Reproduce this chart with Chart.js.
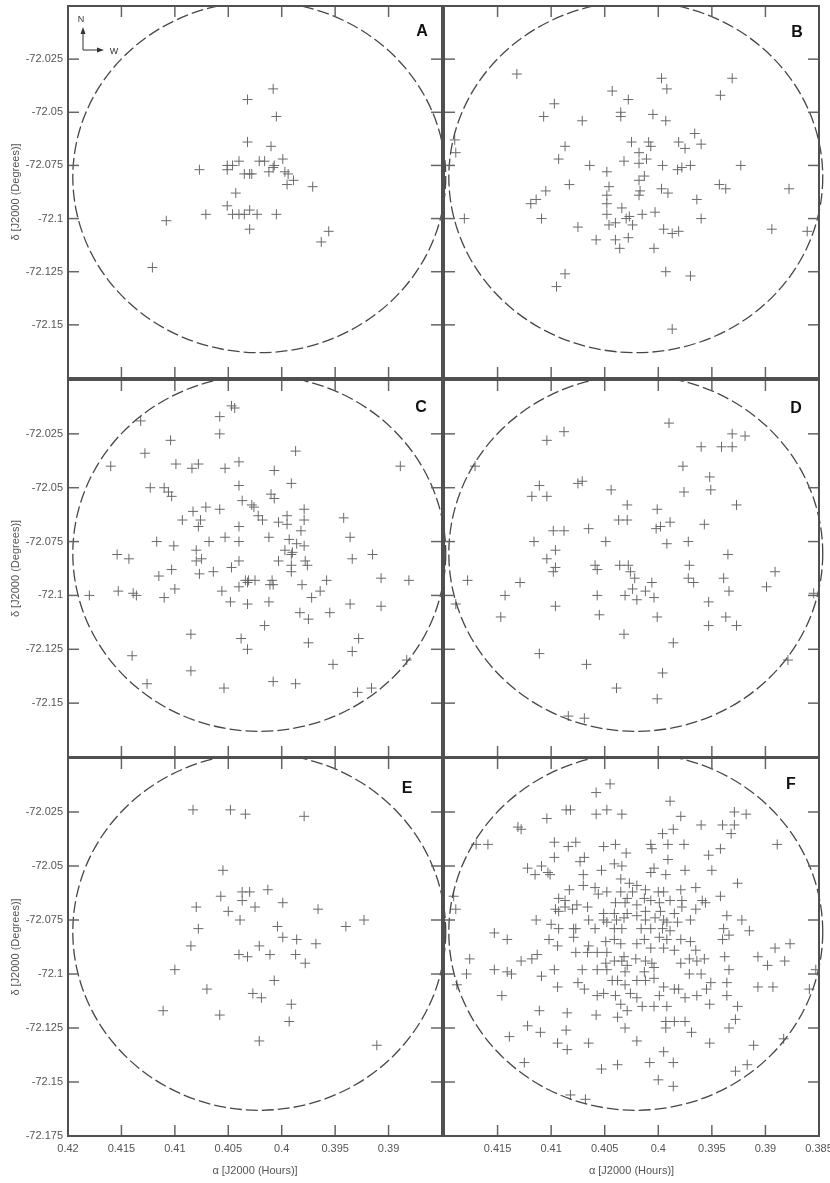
<!DOCTYPE html>
<html>
<head>
<meta charset="utf-8">
<title>Stars in field</title>
<script src="https://cdn.jsdelivr.net/npm/chart.js@4"></script>
<style>
  body { margin: 0; background: #fff; }
  #wrap { position: relative; width: 830px; height: 1183px; overflow: hidden; background: #fff; }
  #wrap canvas { position: absolute; }
</style>
</head>
<body>
<div id="wrap"></div>
<script>
/* ---- data ---- */
const raTicks = [0.42, 0.415, 0.41, 0.405, 0.4, 0.395, 0.39, 0.385];
const decTicks = [-72.175, -72.15, -72.125, -72.1, -72.075, -72.05, -72.025, -72.0];

// field circle: centre [RA h, Dec deg], radius [RA h, Dec deg]
const fieldCentre = [0.4021, -72.0805];
const fieldRadius = [0.01745, 0.0826];

const starsA = [
  [0.4008,-72.039],[0.4032,-72.044],[0.4005,-72.052],[0.4032,-72.064],[0.4010,-72.066],
  [0.4077,-72.077],[0.4051,-72.075],[0.4051,-72.077],[0.4046,-72.075],[0.4040,-72.073],
  [0.4021,-72.073],[0.4016,-72.073],[0.3999,-72.072],[0.4007,-72.075],[0.4008,-72.076],
  [0.4012,-72.078],[0.4035,-72.079],[0.4030,-72.079],[0.4028,-72.079],[0.3997,-72.078],
  [0.3994,-72.079],[0.3995,-72.084],[0.3989,-72.082],[0.3971,-72.085],[0.4043,-72.088],
  [0.4051,-72.094],[0.4071,-72.098],[0.4046,-72.098],[0.4040,-72.098],[0.4035,-72.098],
  [0.4030,-72.096],[0.4023,-72.098],[0.4005,-72.098],[0.4030,-72.105],[0.4108,-72.101],
  [0.3956,-72.106],[0.3963,-72.111],[0.4121,-72.123]
];

const starsB = [
  [0.4132,-72.032],[0.3997,-72.034],[0.3931,-72.034],[0.3992,-72.039],[0.4043,-72.040],
  [0.3942,-72.042],[0.4028,-72.044],[0.4097,-72.046],[0.4107,-72.052],[0.4035,-72.050],
  [0.4035,-72.052],[0.4005,-72.051],[0.4071,-72.054],[0.3993,-72.054],[0.3966,-72.060],
  [0.4190,-72.063],[0.4189,-72.069],[0.4087,-72.066],[0.4025,-72.064],[0.4009,-72.064],
  [0.4007,-72.066],[0.3981,-72.064],[0.3975,-72.067],[0.3960,-72.065],[0.4018,-72.069],
  [0.4011,-72.072],[0.4093,-72.072],[0.4032,-72.073],[0.4018,-72.074],[0.4064,-72.075],
  [0.3996,-72.075],[0.3982,-72.077],[0.3978,-72.076],[0.3970,-72.075],[0.3923,-72.075],
  [0.4048,-72.078],[0.4013,-72.080],[0.4018,-72.082],[0.4083,-72.084],[0.4046,-72.085],
  [0.3997,-72.086],[0.3991,-72.088],[0.3943,-72.084],[0.3937,-72.086],[0.3878,-72.086],
  [0.4105,-72.087],[0.4017,-72.087],[0.4018,-72.089],[0.4048,-72.089],[0.4114,-72.091],
  [0.4119,-72.093],[0.4048,-72.093],[0.3964,-72.091],[0.4034,-72.095],[0.4048,-72.098],
  [0.4027,-72.099],[0.4015,-72.098],[0.4003,-72.097],[0.4030,-72.100],[0.4109,-72.100],
  [0.3960,-72.100],[0.4181,-72.100],[0.4046,-72.103],[0.4040,-72.102],[0.4024,-72.103],
  [0.4075,-72.104],[0.3995,-72.105],[0.3987,-72.107],[0.3981,-72.106],[0.3894,-72.105],
  [0.3861,-72.106],[0.4058,-72.110],[0.4040,-72.110],[0.4028,-72.109],[0.4036,-72.114],
  [0.4004,-72.114],[0.3993,-72.125],[0.4087,-72.126],[0.3970,-72.127],[0.4095,-72.132],
  [0.3987,-72.152]
];

const starsC = [
  [0.4047,-72.012],[0.4044,-72.013],[0.4058,-72.017],[0.4132,-72.019],[0.4058,-72.025],
  [0.4104,-72.028],[0.3987,-72.033],[0.4128,-72.034],[0.4160,-72.040],[0.4099,-72.039],
  [0.4078,-72.039],[0.4084,-72.041],[0.4053,-72.041],[0.4040,-72.038],[0.4007,-72.042],
  [0.3889,-72.040],[0.4040,-72.049],[0.3991,-72.048],[0.4123,-72.050],[0.4110,-72.050],
  [0.4106,-72.052],[0.4103,-72.054],[0.4010,-72.053],[0.4007,-72.055],[0.4037,-72.056],
  [0.4028,-72.058],[0.4026,-72.059],[0.4071,-72.059],[0.4058,-72.060],[0.4083,-72.061],
  [0.4022,-72.063],[0.4018,-72.065],[0.4093,-72.065],[0.4076,-72.065],[0.4078,-72.068],
  [0.4040,-72.068],[0.4003,-72.066],[0.3995,-72.063],[0.3995,-72.067],[0.3979,-72.060],
  [0.3979,-72.065],[0.3982,-72.070],[0.3942,-72.064],[0.4012,-72.073],[0.4053,-72.073],
  [0.4040,-72.075],[0.4068,-72.075],[0.4117,-72.075],[0.4101,-72.077],[0.3993,-72.074],
  [0.3986,-72.076],[0.3979,-72.077],[0.4080,-72.079],[0.4080,-72.084],[0.4075,-72.083],
  [0.3997,-72.079],[0.3990,-72.080],[0.3991,-72.081],[0.3936,-72.073],[0.3934,-72.083],
  [0.3915,-72.081],[0.4154,-72.081],[0.4143,-72.083],[0.4003,-72.084],[0.4040,-72.084],
  [0.3978,-72.084],[0.3976,-72.086],[0.3991,-72.086],[0.3991,-72.089],[0.4047,-72.087],
  [0.4103,-72.088],[0.4115,-72.091],[0.4064,-72.089],[0.4077,-72.090],[0.4034,-72.093],
  [0.4031,-72.093],[0.4025,-72.093],[0.4032,-72.094],[0.4009,-72.093],[0.4011,-72.095],
  [0.4008,-72.095],[0.3958,-72.093],[0.3907,-72.092],[0.3881,-72.093],[0.3981,-72.095],
  [0.4040,-72.096],[0.4100,-72.097],[0.4153,-72.098],[0.4139,-72.099],[0.4136,-72.100],
  [0.4180,-72.100],[0.4110,-72.101],[0.4056,-72.098],[0.3964,-72.098],[0.3972,-72.101],
  [0.4048,-72.103],[0.4032,-72.104],[0.4012,-72.103],[0.3936,-72.104],[0.3907,-72.105],
  [0.3983,-72.108],[0.3975,-72.111],[0.3955,-72.108],[0.4016,-72.114],[0.4085,-72.118],
  [0.4038,-72.120],[0.3975,-72.122],[0.3928,-72.120],[0.4032,-72.125],[0.3934,-72.126],
  [0.4140,-72.128],[0.3883,-72.130],[0.3952,-72.132],[0.4085,-72.135],[0.4008,-72.140],
  [0.3987,-72.141],[0.4126,-72.141],[0.4054,-72.143],[0.3929,-72.145],[0.3916,-72.143]
];

const starsD = [
  [0.3990,-72.020],[0.4088,-72.024],[0.4104,-72.028],[0.3931,-72.025],[0.3919,-72.026],
  [0.3960,-72.031],[0.3941,-72.031],[0.3931,-72.031],[0.4171,-72.040],[0.3977,-72.040],
  [0.3952,-72.045],[0.4071,-72.047],[0.4075,-72.048],[0.4111,-72.049],[0.4118,-72.054],
  [0.4104,-72.054],[0.4044,-72.051],[0.3976,-72.052],[0.3951,-72.051],[0.4029,-72.058],
  [0.3927,-72.058],[0.4001,-72.060],[0.4037,-72.065],[0.4029,-72.065],[0.3989,-72.066],
  [0.4002,-72.069],[0.3998,-72.068],[0.3957,-72.067],[0.4098,-72.070],[0.4088,-72.070],
  [0.4065,-72.069],[0.4116,-72.075],[0.4049,-72.075],[0.3992,-72.076],[0.3972,-72.075],
  [0.4096,-72.079],[0.3935,-72.081],[0.4104,-72.083],[0.4059,-72.086],[0.4057,-72.088],
  [0.4036,-72.086],[0.4028,-72.086],[0.4026,-72.089],[0.3971,-72.086],[0.4096,-72.087],
  [0.4098,-72.089],[0.3891,-72.089],[0.4022,-72.092],[0.3972,-72.092],[0.3967,-72.094],
  [0.3939,-72.092],[0.4006,-72.094],[0.4178,-72.093],[0.4129,-72.094],[0.4024,-72.097],
  [0.4012,-72.098],[0.4031,-72.100],[0.4020,-72.102],[0.4004,-72.101],[0.4057,-72.100],
  [0.4143,-72.100],[0.3934,-72.098],[0.3899,-72.096],[0.3855,-72.099],[0.4189,-72.104],
  [0.3953,-72.103],[0.4096,-72.105],[0.4055,-72.109],[0.4001,-72.110],[0.4147,-72.110],
  [0.3937,-72.110],[0.3953,-72.114],[0.3927,-72.114],[0.4032,-72.118],[0.3986,-72.122],
  [0.4111,-72.127],[0.4067,-72.132],[0.3996,-72.136],[0.3879,-72.130],[0.4039,-72.143],
  [0.4001,-72.148],[0.4084,-72.156],[0.4069,-72.157]
];

const starsE = [
  [0.4083,-72.024],[0.4048,-72.024],[0.4034,-72.026],[0.3979,-72.027],[0.4055,-72.052],
  [0.4037,-72.062],[0.4030,-72.062],[0.4013,-72.061],[0.4057,-72.064],[0.4037,-72.066],
  [0.4080,-72.069],[0.4025,-72.069],[0.3999,-72.067],[0.3966,-72.070],[0.4050,-72.071],
  [0.4039,-72.075],[0.3923,-72.075],[0.4078,-72.079],[0.4004,-72.078],[0.3940,-72.078],
  [0.3999,-72.083],[0.3986,-72.084],[0.4085,-72.087],[0.4021,-72.087],[0.3968,-72.086],
  [0.4040,-72.091],[0.4032,-72.092],[0.4011,-72.091],[0.3987,-72.091],[0.3978,-72.095],
  [0.4100,-72.098],[0.4007,-72.103],[0.4070,-72.107],[0.4027,-72.109],[0.4019,-72.111],
  [0.3991,-72.114],[0.4111,-72.117],[0.4058,-72.119],[0.3993,-72.122],[0.4021,-72.131],
  [0.3911,-72.133]
];

const starsF = [
  // north-east quarter
  [0.4045,-72.012],[0.4058,-72.016],[0.4086,-72.024],[0.4082,-72.024],[0.4048,-72.024],
  [0.4058,-72.026],[0.4034,-72.026],[0.4104,-72.028],[0.4131,-72.032],[0.4128,-72.033],
  [0.4170,-72.040],[0.4159,-72.040],[0.4097,-72.039],[0.4084,-72.041],[0.4077,-72.039],
  [0.4051,-72.041],[0.4040,-72.040],[0.4030,-72.044],[0.4097,-72.046],[0.4069,-72.046],
  [0.4073,-72.048],[0.4122,-72.051],[0.4109,-72.050],[0.4115,-72.054],[0.4103,-72.053],
  [0.4101,-72.054],[0.4053,-72.052],[0.4041,-72.049],[0.4034,-72.050],[0.4070,-72.054],
  [0.4035,-72.056],[0.4027,-72.058],[0.4070,-72.059],[0.4059,-72.060],[0.4083,-72.061],
  [0.4048,-72.062],[0.4093,-72.065],[0.4087,-72.066],[0.4056,-72.063],[0.4035,-72.062],
  [0.4029,-72.065],[0.4024,-72.062],[0.4031,-72.067],[0.4040,-72.067],[0.4076,-72.068],
  [0.4080,-72.070],[0.4066,-72.069],[0.4096,-72.070],[0.4093,-72.071],[0.4087,-72.069],
  [0.4191,-72.064],[0.4189,-72.070],[0.4051,-72.072],[0.4041,-72.072],[0.4029,-72.072],
  [0.4114,-72.075],[0.4065,-72.075],[0.4051,-72.075],[0.4048,-72.076],[0.4039,-72.075],
  [0.4032,-72.074],[0.4153,-72.081],[0.4141,-72.084],[0.4100,-72.077],[0.4093,-72.079],
  [0.4079,-72.079],[0.4077,-72.079],[0.4059,-72.079],[0.4041,-72.079],[0.4034,-72.079],
  [0.4102,-72.084],[0.4079,-72.083],[0.4049,-72.085],[0.4041,-72.084],[0.4094,-72.087],
  [0.4065,-72.087],[0.4035,-72.086],
  // north-west quarter
  [0.3989,-72.020],[0.3979,-72.027],[0.3929,-72.025],[0.3918,-72.026],[0.3960,-72.031],
  [0.3940,-72.031],[0.3929,-72.031],[0.3932,-72.035],[0.3996,-72.035],[0.3986,-72.033],
  [0.4007,-72.040],[0.4006,-72.042],[0.3991,-72.040],[0.3976,-72.040],[0.3889,-72.040],
  [0.3942,-72.042],[0.3953,-72.045],[0.3991,-72.047],[0.4004,-72.051],[0.4007,-72.053],
  [0.3993,-72.054],[0.3975,-72.052],[0.3950,-72.052],[0.3926,-72.058],[0.4020,-72.059],
  [0.4012,-72.061],[0.4000,-72.062],[0.3995,-72.062],[0.3979,-72.061],[0.3965,-72.060],
  [0.3942,-72.064],[0.3959,-72.066],[0.3956,-72.067],[0.4013,-72.065],[0.4007,-72.066],
  [0.3999,-72.067],[0.3989,-72.066],[0.3978,-72.066],[0.4020,-72.068],[0.4012,-72.071],
  [0.3998,-72.071],[0.3985,-72.072],[0.3978,-72.069],[0.3965,-72.070],[0.3936,-72.073],
  [0.3922,-72.075],[0.4020,-72.073],[0.4012,-72.075],[0.4003,-72.074],[0.3995,-72.075],
  [0.3992,-72.076],[0.3982,-72.076],[0.3970,-72.075],[0.3939,-72.079],[0.3915,-72.080],
  [0.4016,-72.079],[0.4007,-72.079],[0.3996,-72.079],[0.3989,-72.080],[0.3999,-72.083],
  [0.3992,-72.084],[0.3979,-72.084],[0.3970,-72.085],[0.3940,-72.084],[0.3934,-72.082],
  [0.3877,-72.086],[0.4013,-72.084],[0.3891,-72.088],[0.4020,-72.086],[0.4007,-72.088],
  [0.3995,-72.088],[0.3985,-72.089],[0.3965,-72.089],
  // south-east quarter
  [0.4066,-72.090],[0.4057,-72.090],[0.4048,-72.090],
  [0.4176,-72.093],[0.4128,-72.094],[0.4118,-72.093],[0.4113,-72.091],[0.4077,-72.090],
  [0.4153,-72.098],[0.4141,-72.099],[0.4137,-72.100],[0.4179,-72.100],[0.4188,-72.105],
  [0.4109,-72.101],[0.4097,-72.098],[0.4071,-72.098],[0.4057,-72.098],[0.4048,-72.098],
  [0.4043,-72.103],[0.4038,-72.103],[0.4034,-72.094],[0.4031,-72.099],[0.4041,-72.094],
  [0.4049,-72.095],[0.4032,-72.092],[0.4029,-72.096],[0.4094,-72.106],[0.4075,-72.104],
  [0.4069,-72.107],[0.4146,-72.110],[0.4057,-72.110],[0.4051,-72.109],[0.4040,-72.110],
  [0.4031,-72.105],[0.4026,-72.109],[0.4035,-72.114],[0.4029,-72.117],[0.4111,-72.117],
  [0.4085,-72.118],[0.4058,-72.119],[0.4038,-72.120],[0.4122,-72.124],[0.4086,-72.126],
  [0.4110,-72.127],[0.4139,-72.129],[0.4031,-72.125],[0.4094,-72.132],[0.4085,-72.135],
  [0.4065,-72.132],[0.4125,-72.141],[0.4053,-72.144],[0.4038,-72.142],[0.4082,-72.156],
  [0.4068,-72.158],
  // south-west quarter
  [0.4012,-72.094],[0.4006,-72.095],[0.4021,-72.093],[0.4013,-72.099],[0.4004,-72.097],
  [0.4020,-72.103],[0.4012,-72.103],[0.4004,-72.102],[0.3979,-72.095],[0.3971,-72.093],
  [0.3964,-72.094],[0.3957,-72.093],[0.3938,-72.092],[0.3907,-72.092],[0.3882,-72.094],
  [0.3898,-72.096],[0.3853,-72.098],[0.3934,-72.098],[0.3971,-72.100],[0.3960,-72.100],
  [0.3951,-72.104],[0.3936,-72.104],[0.3907,-72.106],[0.3893,-72.106],[0.3859,-72.107],
  [0.3995,-72.106],[0.3985,-72.107],[0.3981,-72.107],[0.3955,-72.107],[0.3999,-72.110],
  [0.4020,-72.111],[0.4015,-72.115],[0.4004,-72.115],[0.3992,-72.115],[0.3975,-72.111],
  [0.3964,-72.110],[0.3936,-72.110],[0.3952,-72.114],[0.3926,-72.115],[0.3993,-72.122],
  [0.3985,-72.122],[0.3975,-72.122],[0.3993,-72.125],[0.3969,-72.127],[0.3928,-72.121],
  [0.3934,-72.125],[0.4020,-72.131],[0.3952,-72.132],[0.3911,-72.133],[0.3883,-72.130],
  [0.3995,-72.136],[0.4008,-72.141],[0.3986,-72.141],[0.3917,-72.142],[0.3928,-72.145],
  [0.4000,-72.149],[0.3986,-72.152]
];

/* ---- layout ---- */
const FONT = "'Liberation Sans', Arial, Helvetica, sans-serif";
Chart.defaults.font.family = FONT;

// canvas boxes; chart areas land on x 68|443|819 and y 1|379|757|1136
const COLS = [
  { left: 0, width: 448, pad: { left: 0, right: 5 } },
  { left: 438, width: 392, pad: { left: 5, right: 11 } }
];
const ROWS = [
  { top: 0, height: 384, pad: { top: 1, bottom: 5 } },
  { top: 374, height: 389, pad: { top: 5, bottom: 6 } },
  { top: 752, height: 431, pad: { top: 5, bottom: 0 } }
];

const panels = [
  { letter: 'A', stars: starsA, col: 0, row: 0, lx: 20, ly: 26, compass: true },
  { letter: 'B', stars: starsB, col: 1, row: 0, lx: 22, ly: 27 },
  { letter: 'C', stars: starsC, col: 0, row: 1, lx: 21, ly: 28 },
  { letter: 'D', stars: starsD, col: 1, row: 1, lx: 23, ly: 29 },
  { letter: 'E', stars: starsE, col: 0, row: 2, lx: 35, ly: 31 },
  { letter: 'F', stars: starsF, col: 1, row: 2, lx: 28, ly: 27 }
];

const fmt = v => String(+(+v).toFixed(3));

function line(ctx, x1, y1, x2, y2) {
  ctx.beginPath(); ctx.moveTo(x1, y1); ctx.lineTo(x2, y2); ctx.stroke();
}

const panelDecor = {
  id: 'panelDecor',
  afterDatasetsDraw(chart, args, opts) {
    const { ctx, chartArea: a, scales: { x, y } } = chart;

    // dashed field circle
    ctx.save();
    ctx.beginPath();
    ctx.rect(a.left - 6, a.top, a.right - a.left + 12, a.bottom - a.top);
    ctx.clip();
    const cx = x.getPixelForValue(fieldCentre[0]);
    const cy = y.getPixelForValue(fieldCentre[1]);
    const rx = Math.abs(x.getPixelForValue(fieldCentre[0] + fieldRadius[0]) - cx);
    const ry = Math.abs(y.getPixelForValue(fieldCentre[1] + fieldRadius[1]) - cy);
    ctx.setLineDash([12, 4]);
    ctx.strokeStyle = '#474747';
    ctx.lineWidth = 1.3;
    ctx.beginPath();
    ctx.ellipse(cx, cy, rx, ry, 0, 0, Math.PI * 2);
    ctx.stroke();
    ctx.restore();

    // inward tick marks on all four sides
    ctx.save();
    ctx.strokeStyle = '#666';
    ctx.lineWidth = 1.5;
    const TL = 11;
    raTicks.forEach(v => {
      const px = x.getPixelForValue(v);
      if (px <= a.left + 2 || px >= a.right - 2) return;
      line(ctx, px, a.top, px, a.top + TL);
      line(ctx, px, a.bottom, px, a.bottom - TL);
    });
    decTicks.forEach(v => {
      const py = y.getPixelForValue(v);
      if (py <= a.top + 2 || py >= a.bottom - 2) return;
      line(ctx, a.left, py, a.left + TL, py);
      line(ctx, a.right, py, a.right - TL, py);
    });
    // frame
    ctx.strokeStyle = '#505050';
    ctx.lineWidth = 2;
    ctx.strokeRect(a.left, a.top, a.right - a.left, a.bottom - a.top);

    // panel letter
    ctx.fillStyle = '#111';
    ctx.font = 'bold 16px ' + FONT;
    ctx.textAlign = 'center';
    ctx.textBaseline = 'middle';
    ctx.fillText(opts.letter, a.right - opts.lx, a.top + opts.ly);

    // N / W compass
    if (opts.compass) {
      const ox = a.left + 15, oy = a.top + 44;
      ctx.strokeStyle = '#333';
      ctx.fillStyle = '#333';
      ctx.lineWidth = 1;
      line(ctx, ox, oy, ox, oy - 18);
      ctx.beginPath(); ctx.moveTo(ox, oy - 23); ctx.lineTo(ox - 2.5, oy - 16); ctx.lineTo(ox + 2.5, oy - 16); ctx.closePath(); ctx.fill();
      line(ctx, ox, oy, ox + 16, oy);
      ctx.beginPath(); ctx.moveTo(ox + 21, oy); ctx.lineTo(ox + 14, oy - 2.5); ctx.lineTo(ox + 14, oy + 2.5); ctx.closePath(); ctx.fill();
      ctx.font = '9px ' + FONT;
      ctx.fillText('N', ox - 2, oy - 30);
      ctx.fillText('W', ox + 31, oy + 2);
    }
    ctx.restore();
  }
};

const wrap = document.getElementById('wrap');

panels.forEach(p => {
  const col = COLS[p.col], row = ROWS[p.row];
  const canvas = document.createElement('canvas');
  canvas.width = col.width;
  canvas.height = row.height;
  canvas.style.left = col.left + 'px';
  canvas.style.top = row.top + 'px';
  canvas.style.width = col.width + 'px';
  canvas.style.height = row.height + 'px';
  wrap.appendChild(canvas);

  const showY = p.col === 0;
  const showX = p.row === 2;

  new Chart(canvas.getContext('2d'), {
    type: 'scatter',
    data: {
      datasets: [{
        data: p.stars.map(([ra, dec]) => ({ x: ra, y: dec })),
        pointStyle: 'cross',
        pointRadius: 5,
        pointHoverRadius: 5,
        pointBorderColor: '#6a6a6a',
        pointBackgroundColor: '#6a6a6a',
        pointBorderWidth: 1,
        showLine: false
      }]
    },
    options: {
      responsive: false,
      animation: false,
      devicePixelRatio: 1,
      events: [],
      layout: {
        padding: { left: col.pad.left, right: col.pad.right, top: row.pad.top, bottom: row.pad.bottom }
      },
      plugins: {
        legend: { display: false },
        tooltip: { enabled: false },
        panelDecor: { letter: p.letter, lx: p.lx, ly: p.ly, compass: !!p.compass }
      },
      scales: {
        x: {
          type: 'linear',
          min: 0.385,
          max: 0.42,
          reverse: true,
          display: showX,
          afterBuildTicks: s => { s.ticks = raTicks.map(v => ({ value: v })); },
          afterFit: s => {
            s.height = showX ? 47 : 0;
            s.paddingLeft = 0;
            s.paddingRight = 0;
          },
          grid: { display: false, drawTicks: false },
          border: { display: false },
          ticks: {
            autoSkip: false,
            maxRotation: 0,
            padding: 6,
            color: '#555',
            font: { size: 11 },
            callback: v => {
              if (p.col === 0 && Math.abs(v - 0.385) < 1e-6) return '';
              if (p.col === 1 && Math.abs(v - 0.42) < 1e-6) return '';
              return fmt(v);
            }
          },
          title: {
            display: true,
            text: 'α [J2000 (Hours)]',
            color: '#555',
            font: { size: 11 },
            padding: { top: 0, bottom: 5 }
          }
        },
        y: {
          type: 'linear',
          min: -72.175,
          max: -72.0,
          display: showY,
          afterBuildTicks: s => { s.ticks = decTicks.map(v => ({ value: v })); },
          afterFit: s => {
            s.width = showY ? 68 : 0;
            s.paddingTop = 0;
            s.paddingBottom = 0;
          },
          grid: { display: false, drawTicks: false },
          border: { display: false },
          ticks: {
            padding: 5,
            color: '#555',
            font: { size: 11 },
            callback: v => {
              if (Math.abs(v + 72.0) < 1e-6) return '';
              if (p.row !== 2 && Math.abs(v + 72.175) < 1e-6) return '';
              return fmt(v);
            }
          },
          title: {
            display: true,
            text: 'δ [J2000 (Degrees)]',
            color: '#555',
            font: { size: 11 },
            padding: { top: 9, bottom: 0 }
          }
        }
      }
    },
    plugins: [panelDecor]
  });
});
</script>
</body>
</html>
